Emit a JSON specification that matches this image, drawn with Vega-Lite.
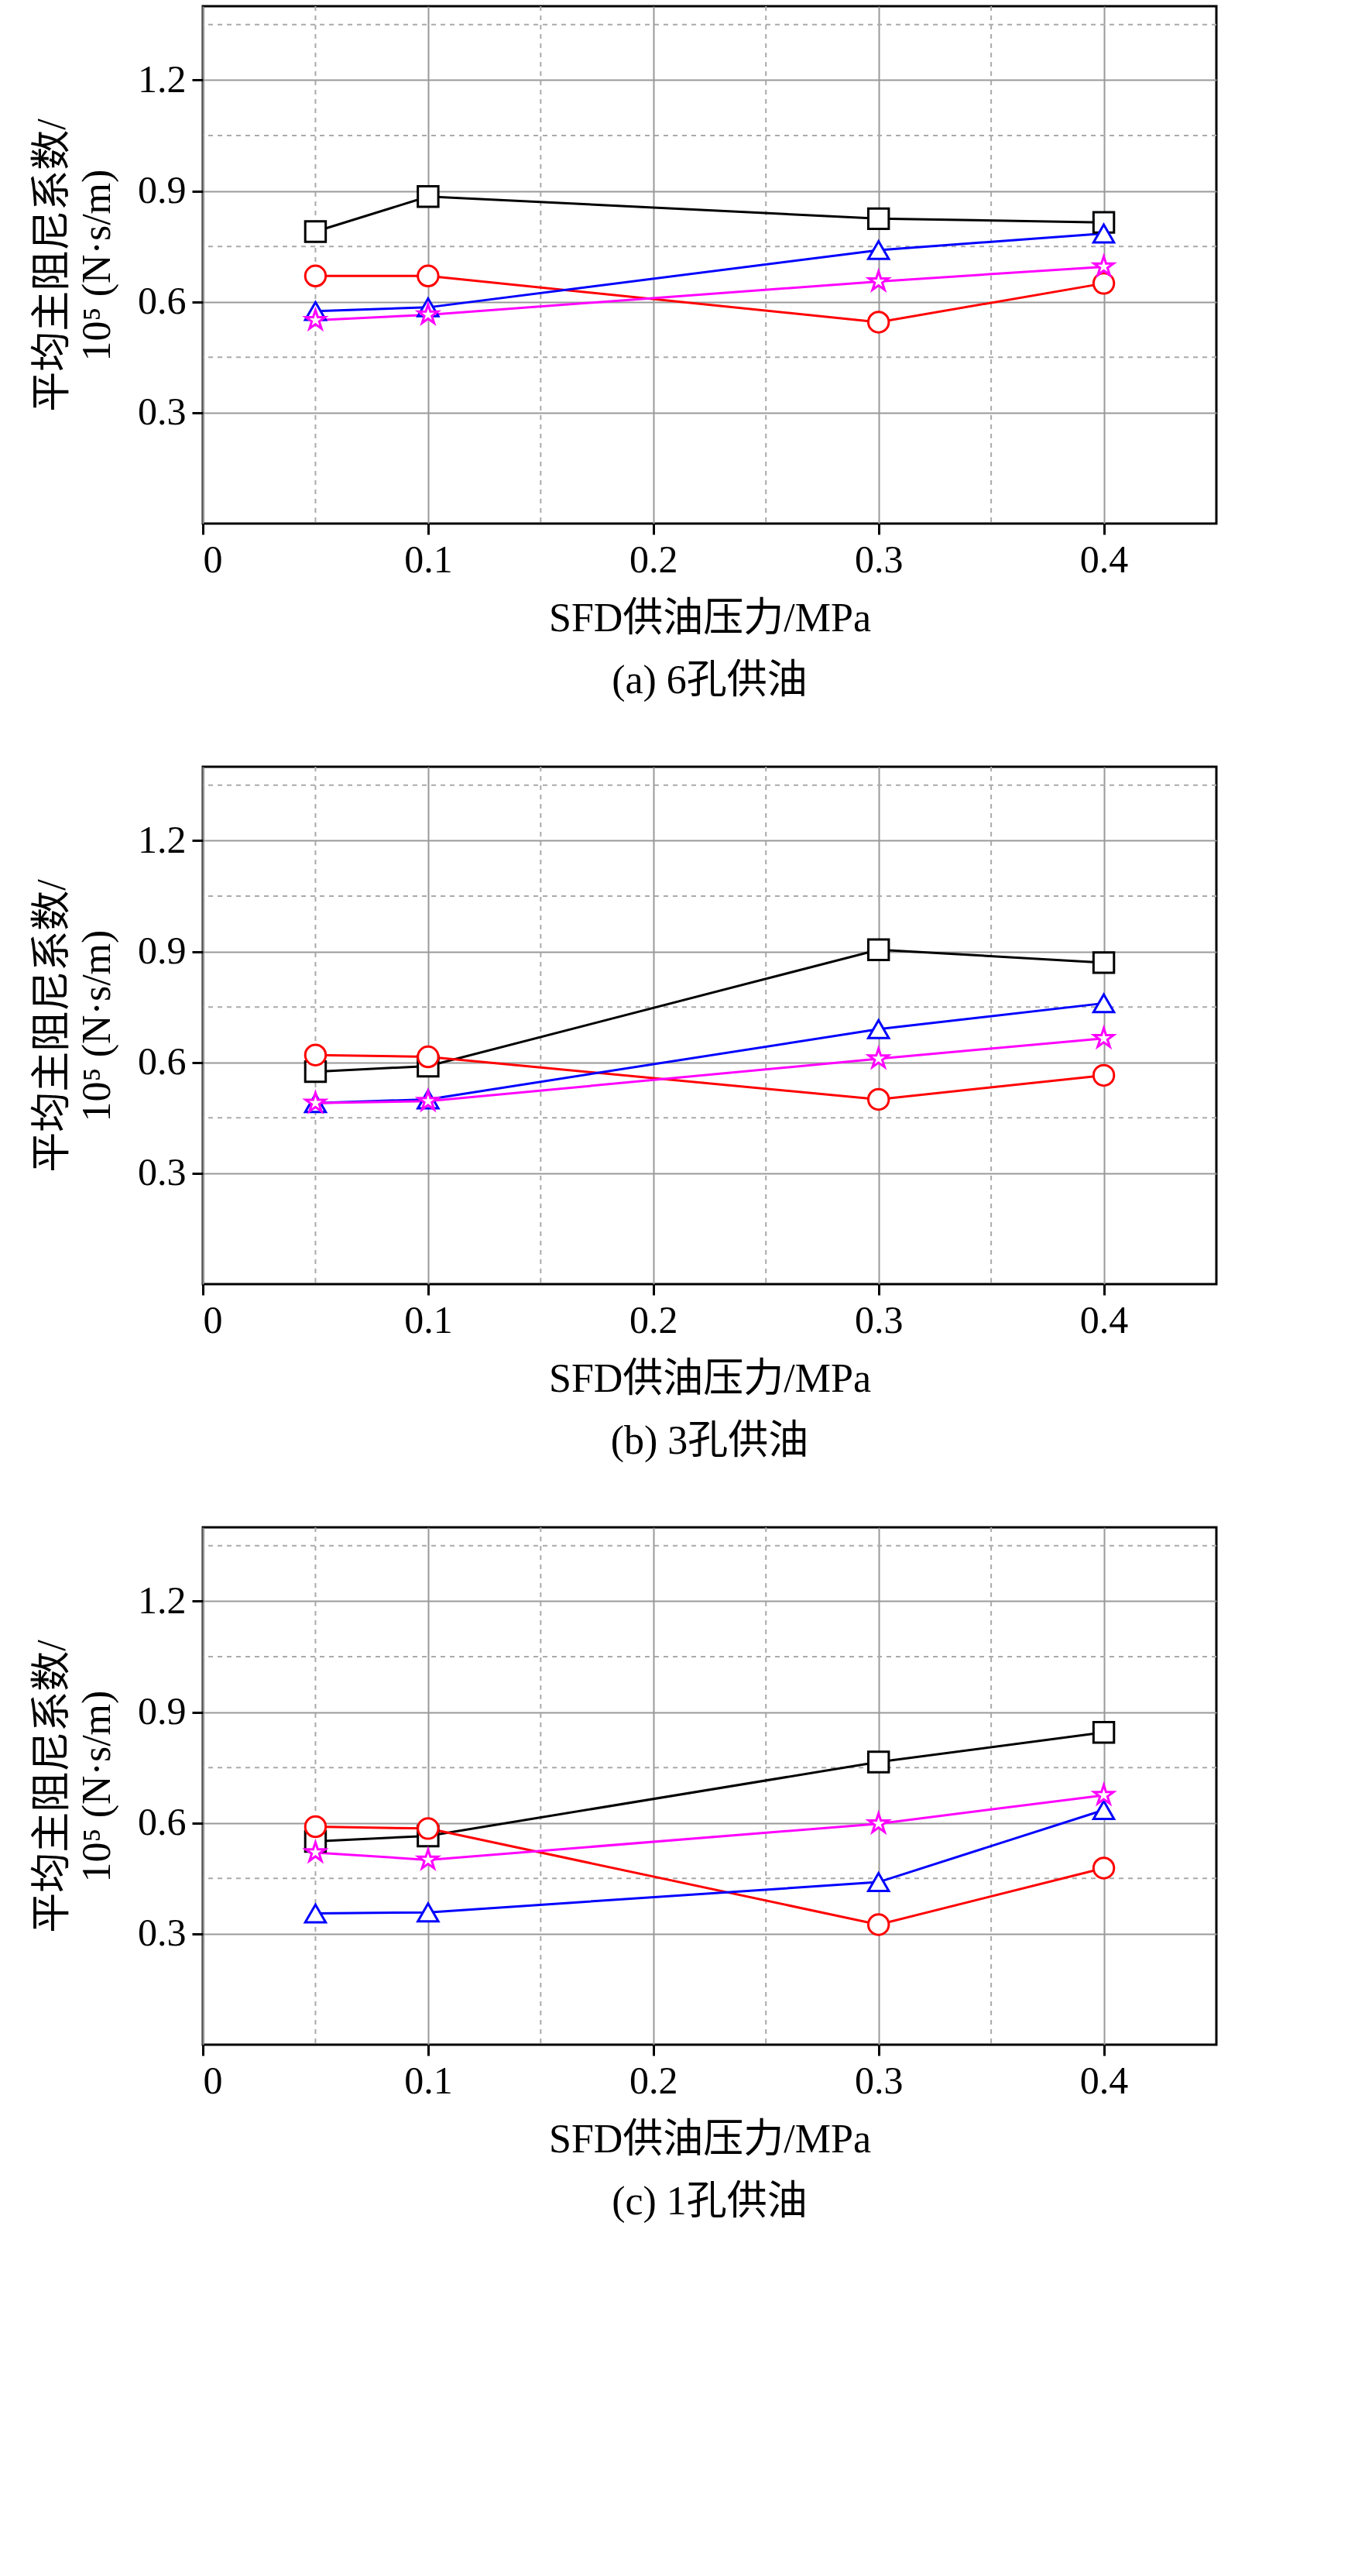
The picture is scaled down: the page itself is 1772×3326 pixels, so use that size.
{
  "$schema": "https://vega.github.io/schema/vega-lite/v6.json",
  "background": "white",
  "padding": {"left": 40, "top": 5, "right": 100, "bottom": 10},
  "datasets": {
    "pts": [
      {"panel": "a", "angle": "活塞环开口角度 0°", "p": 0.05, "c": 0.79},
      {"panel": "a", "angle": "活塞环开口角度 0°", "p": 0.1, "c": 0.885},
      {"panel": "a", "angle": "活塞环开口角度 0°", "p": 0.3, "c": 0.825},
      {"panel": "a", "angle": "活塞环开口角度 0°", "p": 0.4, "c": 0.815},
      {"panel": "a", "angle": "活塞环开口角度 90°", "p": 0.05, "c": 0.67},
      {"panel": "a", "angle": "活塞环开口角度 90°", "p": 0.1, "c": 0.67},
      {"panel": "a", "angle": "活塞环开口角度 90°", "p": 0.3, "c": 0.545},
      {"panel": "a", "angle": "活塞环开口角度 90°", "p": 0.4, "c": 0.65},
      {"panel": "a", "angle": "活塞环开口角度 180°", "p": 0.05, "c": 0.575},
      {"panel": "a", "angle": "活塞环开口角度 180°", "p": 0.1, "c": 0.585},
      {"panel": "a", "angle": "活塞环开口角度 180°", "p": 0.3, "c": 0.74},
      {"panel": "a", "angle": "活塞环开口角度 180°", "p": 0.4, "c": 0.785},
      {"panel": "a", "angle": "活塞环开口角度 270°", "p": 0.05, "c": 0.55},
      {"panel": "a", "angle": "活塞环开口角度 270°", "p": 0.1, "c": 0.565},
      {"panel": "a", "angle": "活塞环开口角度 270°", "p": 0.3, "c": 0.655},
      {"panel": "a", "angle": "活塞环开口角度 270°", "p": 0.4, "c": 0.695},
      {"panel": "b", "angle": "活塞环开口角度 0°", "p": 0.05, "c": 0.575},
      {"panel": "b", "angle": "活塞环开口角度 0°", "p": 0.1, "c": 0.59},
      {"panel": "b", "angle": "活塞环开口角度 0°", "p": 0.3, "c": 0.905},
      {"panel": "b", "angle": "活塞环开口角度 0°", "p": 0.4, "c": 0.87},
      {"panel": "b", "angle": "活塞环开口角度 90°", "p": 0.05, "c": 0.62},
      {"panel": "b", "angle": "活塞环开口角度 90°", "p": 0.1, "c": 0.615},
      {"panel": "b", "angle": "活塞环开口角度 90°", "p": 0.3, "c": 0.5},
      {"panel": "b", "angle": "活塞环开口角度 90°", "p": 0.4, "c": 0.565},
      {"panel": "b", "angle": "活塞环开口角度 180°", "p": 0.05, "c": 0.49},
      {"panel": "b", "angle": "活塞环开口角度 180°", "p": 0.1, "c": 0.5},
      {"panel": "b", "angle": "活塞环开口角度 180°", "p": 0.3, "c": 0.69},
      {"panel": "b", "angle": "活塞环开口角度 180°", "p": 0.4, "c": 0.76},
      {"panel": "b", "angle": "活塞环开口角度 270°", "p": 0.05, "c": 0.49},
      {"panel": "b", "angle": "活塞环开口角度 270°", "p": 0.1, "c": 0.495},
      {"panel": "b", "angle": "活塞环开口角度 270°", "p": 0.3, "c": 0.61},
      {"panel": "b", "angle": "活塞环开口角度 270°", "p": 0.4, "c": 0.665},
      {"panel": "c", "angle": "活塞环开口角度 0°", "p": 0.05, "c": 0.55},
      {"panel": "c", "angle": "活塞环开口角度 0°", "p": 0.1, "c": 0.565},
      {"panel": "c", "angle": "活塞环开口角度 0°", "p": 0.3, "c": 0.765},
      {"panel": "c", "angle": "活塞环开口角度 0°", "p": 0.4, "c": 0.845},
      {"panel": "c", "angle": "活塞环开口角度 90°", "p": 0.05, "c": 0.59},
      {"panel": "c", "angle": "活塞环开口角度 90°", "p": 0.1, "c": 0.585},
      {"panel": "c", "angle": "活塞环开口角度 90°", "p": 0.3, "c": 0.325},
      {"panel": "c", "angle": "活塞环开口角度 90°", "p": 0.4, "c": 0.478},
      {"panel": "c", "angle": "活塞环开口角度 180°", "p": 0.05, "c": 0.355},
      {"panel": "c", "angle": "活塞环开口角度 180°", "p": 0.1, "c": 0.358},
      {"panel": "c", "angle": "活塞环开口角度 180°", "p": 0.3, "c": 0.44},
      {"panel": "c", "angle": "活塞环开口角度 180°", "p": 0.4, "c": 0.635},
      {"panel": "c", "angle": "活塞环开口角度 270°", "p": 0.05, "c": 0.52},
      {"panel": "c", "angle": "活塞环开口角度 270°", "p": 0.1, "c": 0.5},
      {"panel": "c", "angle": "活塞环开口角度 270°", "p": 0.3, "c": 0.598},
      {"panel": "c", "angle": "活塞环开口角度 270°", "p": 0.4, "c": 0.675}
    ],
    "ygrid": [{"c": 0.45}, {"c": 0.75}, {"c": 1.05}, {"c": 1.35}],
    "xgrid": [{"p": 0.05}, {"p": 0.15}, {"p": 0.25}, {"p": 0.35}]
  },
  "vconcat": [
    {
      "title": {"text": "(a) 6孔供油", "orient": "bottom", "offset": 30},
      "width": 1309, "height": 668,
      "layer": [
        {"data": {"name": "ygrid"}, "mark": {"type": "rule", "strokeDash": [6, 6], "color": "#aaaaaa", "strokeWidth": 2}, "encoding": {"y": {"field": "c", "type": "quantitative"}}},
        {"data": {"name": "xgrid"}, "mark": {"type": "rule", "strokeDash": [6, 6], "color": "#aaaaaa", "strokeWidth": 2}, "encoding": {"x": {"field": "p", "type": "quantitative"}}},
        {"data": {"name": "pts"}, "transform": [{"filter": "datum.panel == 'a'"}], "mark": {"type": "line", "strokeWidth": 3}, "encoding": {"x": {"field": "p", "type": "quantitative"}, "y": {"field": "c", "type": "quantitative"}, "color": {"field": "angle", "type": "nominal", "legend": null}}},
        {"data": {"name": "pts"}, "transform": [{"filter": "datum.panel == 'a'"}], "mark": {"type": "point", "filled": false, "fill": "white", "strokeWidth": 3, "size": 700, "opacity": 1},
          "encoding": {
            "x": {"field": "p", "type": "quantitative", "scale": {"domain": [0, 0.45], "nice": false}, "axis": {"values": [0, 0.1, 0.2, 0.3, 0.4], "format": "~g", "title": "SFD供油压力/MPa"}},
            "y": {"field": "c", "type": "quantitative", "scale": {"domain": [0.3, 1.4], "nice": false}, "axis": {"values": [0.3, 0.6, 0.9, 1.2], "format": ".1f", "title": ["平均主阻尼系数/", "10⁵ (N·s/m)"]}},
            "color": {"field": "angle", "type": "nominal", "scale": {"domain": ["活塞环开口角度 0°", "活塞环开口角度 90°", "活塞环开口角度 180°", "活塞环开口角度 270°"], "range": ["black", "red", "blue", "magenta"]}},
            "shape": {"field": "angle", "type": "nominal", "scale": {"domain": ["活塞环开口角度 0°", "活塞环开口角度 90°", "活塞环开口角度 180°", "活塞环开口角度 270°"], "range": ["square", "circle", "triangle-up", "M0,-1L0.2245,-0.309L0.951,-0.309L0.363,0.118L0.588,0.809L0,0.382L-0.588,0.809L-0.363,0.118L-0.951,-0.309L-0.2245,-0.309Z"]}}
          }}
      ]
    },
    {
      "title": {"text": "(b) 3孔供油", "orient": "bottom", "offset": 30},
      "width": 1309, "height": 668,
      "layer": [
        {"data": {"name": "ygrid"}, "mark": {"type": "rule", "strokeDash": [6, 6], "color": "#aaaaaa", "strokeWidth": 2}, "encoding": {"y": {"field": "c", "type": "quantitative"}}},
        {"data": {"name": "xgrid"}, "mark": {"type": "rule", "strokeDash": [6, 6], "color": "#aaaaaa", "strokeWidth": 2}, "encoding": {"x": {"field": "p", "type": "quantitative"}}},
        {"data": {"name": "pts"}, "transform": [{"filter": "datum.panel == 'b'"}], "mark": {"type": "line", "strokeWidth": 3}, "encoding": {"x": {"field": "p", "type": "quantitative"}, "y": {"field": "c", "type": "quantitative"}, "color": {"field": "angle", "type": "nominal", "legend": null}}},
        {"data": {"name": "pts"}, "transform": [{"filter": "datum.panel == 'b'"}], "mark": {"type": "point", "filled": false, "fill": "white", "strokeWidth": 3, "size": 700, "opacity": 1},
          "encoding": {
            "x": {"field": "p", "type": "quantitative", "scale": {"domain": [0, 0.45], "nice": false}, "axis": {"values": [0, 0.1, 0.2, 0.3, 0.4], "format": "~g", "title": "SFD供油压力/MPa"}},
            "y": {"field": "c", "type": "quantitative", "scale": {"domain": [0.3, 1.4], "nice": false}, "axis": {"values": [0.3, 0.6, 0.9, 1.2], "format": ".1f", "title": ["平均主阻尼系数/", "10⁵ (N·s/m)"]}},
            "color": {"field": "angle", "type": "nominal", "scale": {"domain": ["活塞环开口角度 0°", "活塞环开口角度 90°", "活塞环开口角度 180°", "活塞环开口角度 270°"], "range": ["black", "red", "blue", "magenta"]}},
            "shape": {"field": "angle", "type": "nominal", "scale": {"domain": ["活塞环开口角度 0°", "活塞环开口角度 90°", "活塞环开口角度 180°", "活塞环开口角度 270°"], "range": ["square", "circle", "triangle-up", "M0,-1L0.2245,-0.309L0.951,-0.309L0.363,0.118L0.588,0.809L0,0.382L-0.588,0.809L-0.363,0.118L-0.951,-0.309L-0.2245,-0.309Z"]}}
          }}
      ]
    },
    {
      "title": {"text": "(c) 1孔供油", "orient": "bottom", "offset": 30},
      "width": 1309, "height": 668,
      "layer": [
        {"data": {"name": "ygrid"}, "mark": {"type": "rule", "strokeDash": [6, 6], "color": "#aaaaaa", "strokeWidth": 2}, "encoding": {"y": {"field": "c", "type": "quantitative"}}},
        {"data": {"name": "xgrid"}, "mark": {"type": "rule", "strokeDash": [6, 6], "color": "#aaaaaa", "strokeWidth": 2}, "encoding": {"x": {"field": "p", "type": "quantitative"}}},
        {"data": {"name": "pts"}, "transform": [{"filter": "datum.panel == 'c'"}], "mark": {"type": "line", "strokeWidth": 3}, "encoding": {"x": {"field": "p", "type": "quantitative"}, "y": {"field": "c", "type": "quantitative"}, "color": {"field": "angle", "type": "nominal", "legend": null}}},
        {"data": {"name": "pts"}, "transform": [{"filter": "datum.panel == 'c'"}], "mark": {"type": "point", "filled": false, "fill": "white", "strokeWidth": 3, "size": 700, "opacity": 1},
          "encoding": {
            "x": {"field": "p", "type": "quantitative", "scale": {"domain": [0, 0.45], "nice": false}, "axis": {"values": [0, 0.1, 0.2, 0.3, 0.4], "format": "~g", "title": "SFD供油压力/MPa"}},
            "y": {"field": "c", "type": "quantitative", "scale": {"domain": [0.3, 1.4], "nice": false}, "axis": {"values": [0.3, 0.6, 0.9, 1.2], "format": ".1f", "title": ["平均主阻尼系数/", "10⁵ (N·s/m)"]}},
            "color": {"field": "angle", "type": "nominal", "scale": {"domain": ["活塞环开口角度 0°", "活塞环开口角度 90°", "活塞环开口角度 180°", "活塞环开口角度 270°"], "range": ["black", "red", "blue", "magenta"]}},
            "shape": {"field": "angle", "type": "nominal", "scale": {"domain": ["活塞环开口角度 0°", "活塞环开口角度 90°", "活塞环开口角度 180°", "活塞环开口角度 270°"], "range": ["square", "circle", "triangle-up", "M0,-1L0.2245,-0.309L0.951,-0.309L0.363,0.118L0.588,0.809L0,0.382L-0.588,0.809L-0.363,0.118L-0.951,-0.309L-0.2245,-0.309Z"]}}
          }}
      ]
    }
  ],
  "spacing": 80,
  "resolve": {"scale": {"color": "shared", "shape": "shared"}},
  "config": {
    "font": "Liberation Serif, Noto Sans CJK SC",
    "view": {"stroke": "black", "strokeWidth": 3},
    "axis": {
      "grid": true, "gridColor": "#999999", "gridWidth": 2, "domain": false,
      "tickColor": "black", "tickWidth": 3, "tickSize": 14,
      "labelFontSize": 50, "labelColor": "black", "labelFont": "Liberation Serif", "labelPadding": 8,
      "titleFontSize": 52, "titleColor": "black", "titleFontWeight": "normal", "titleFont": "Liberation Serif, Noto Sans CJK SC",
      "titlePadding": 25, "titleLineHeight": 58
    },
    "title": {"fontSize": 52, "fontWeight": "normal", "color": "black", "font": "Liberation Serif, Noto Sans CJK SC"},
    "legend": {
      "orient": "top", "columns": 2, "title": null, "labelFontSize": 50, "labelColor": "black",
      "labelFont": "Liberation Serif, Noto Sans CJK SC", "symbolSize": 700, "symbolStrokeWidth": 3,
      "columnPadding": 120, "rowPadding": 30, "offset": 80, "labelLimit": 800
    }
  }
}
